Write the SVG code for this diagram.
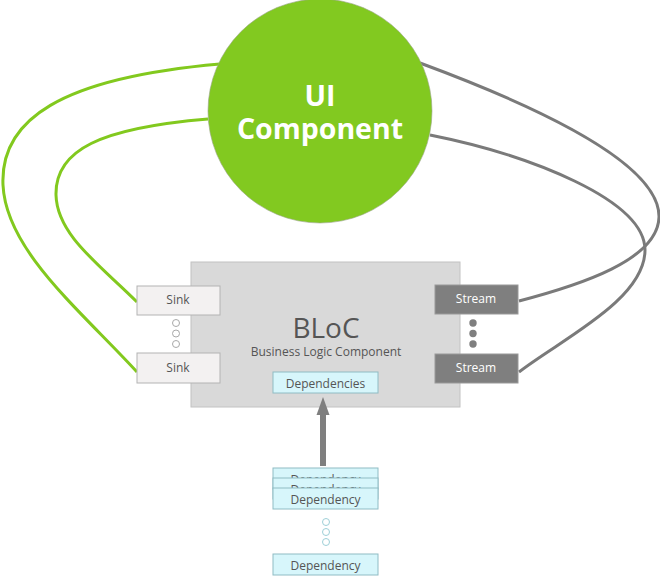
<svg xmlns="http://www.w3.org/2000/svg" width="660" height="576" viewBox="0 0 660 576">
<defs>
<style>
.t{font-family:"Open Sans","DejaVu Sans",sans-serif;text-anchor:middle}
.sink{fill:#f3f1f1;stroke:#b3b3b3;stroke-width:1}
.stream{fill:#7f7f7f;stroke:#9a9a9a;stroke-width:1}
.dep{fill:#d7f6fb;stroke:#8fbcc4;stroke-width:1}
.g{fill:none;stroke:#82c91e;stroke-width:3}
.k{fill:none;stroke:#7a7a7a;stroke-width:3}
</style>
</defs>
<g id="connectors">
<path class="g" d="M220,64 C60,78 0,120 3,185 C6,250 80,310 137,372"/>
<path class="g" d="M208,119 C100,128 55,150 56,195 C57,235 100,265 137,302"/>
<path class="k" d="M420,63 C520,100 660,160 659,217 C658,260 580,285 519,301"/>
<path class="k" d="M430,135 C530,155 645,200 645,250 C645,300 560,340 519,372"/>
</g>
<g id="ui">
<circle cx="320" cy="111" r="112" fill="#82c920" stroke="#9aa58a" stroke-width="0.6"/>
<text class="t" x="320" y="106" font-size="28.5" font-weight="bold" fill="#ffffff">UI</text>
<text class="t" x="320" y="139" font-size="28.5" font-weight="bold" fill="#ffffff">Component</text>
</g>
<g id="bloc">
<rect x="191" y="262" width="269" height="145" fill="#d9d9d9" stroke="#c2c2c2" stroke-width="1"/>
<text class="t" x="326" y="338" font-size="28" fill="#555555">BLoC</text>
<text class="t" x="326" y="356" font-size="12" fill="#555555">Business Logic Component</text>
</g>
<g id="dependencies">
<rect class="dep" x="273" y="372" width="105" height="21"/>
<text class="t" x="325.5" y="388" font-size="12" fill="#555555">Dependencies</text>
</g>
<g id="sink1">
<rect class="sink" x="137" y="286" width="83" height="29"/>
<text class="t" x="178" y="304" font-size="12" fill="#555555">Sink</text>
</g>
<g id="sink-dots" fill="#ffffff" stroke="#a8a8a8" stroke-width="1">
<circle cx="176" cy="323" r="3.5"/>
<circle cx="176" cy="333.5" r="3.5"/>
<circle cx="176" cy="344" r="3.5"/>
</g>
<g id="sink2">
<rect class="sink" x="137" y="353" width="83" height="30"/>
<text class="t" x="178" y="372" font-size="12" fill="#555555">Sink</text>
</g>
<g id="stream1">
<rect class="stream" x="435" y="285" width="83" height="29"/>
<text class="t" x="476" y="303" font-size="12" fill="#ffffff">Stream</text>
</g>
<g id="stream-dots" fill="#7f7f7f">
<circle cx="473" cy="323" r="3.7"/>
<circle cx="473" cy="333.5" r="3.7"/>
<circle cx="473" cy="344" r="3.7"/>
</g>
<g id="stream2">
<rect class="stream" x="435" y="354" width="83" height="29"/>
<text class="t" x="476" y="372" font-size="12" fill="#ffffff">Stream</text>
</g>
<g id="arrow">
<line x1="323" y1="466" x2="323" y2="412" stroke="#7f7f7f" stroke-width="6"/>
<polygon points="323,397 329.5,415 316.5,415" fill="#7f7f7f"/>
</g>
<g id="dep1">
<rect class="dep" x="273" y="468" width="105" height="21"/>
<text class="t" x="325.5" y="484" font-size="12" fill="#555555">Dependency</text>
</g>
<g id="dep2">
<rect class="dep" x="273" y="478" width="105" height="21"/>
<text class="t" x="325.5" y="494" font-size="12" fill="#555555">Dependency</text>
</g>
<g id="dep3">
<rect class="dep" x="273" y="488" width="105" height="21"/>
<text class="t" x="325.5" y="504" font-size="12" fill="#555555">Dependency</text>
</g>
<g id="dep-dots" fill="#ffffff" stroke="#9fd0d8" stroke-width="1">
<circle cx="326" cy="522" r="3.5"/>
<circle cx="326" cy="532" r="3.5"/>
<circle cx="326" cy="542" r="3.5"/>
</g>
<g id="dep4">
<rect class="dep" x="273" y="554" width="105" height="21"/>
<text class="t" x="325.5" y="570" font-size="12" fill="#555555">Dependency</text>
</g>
</svg>
